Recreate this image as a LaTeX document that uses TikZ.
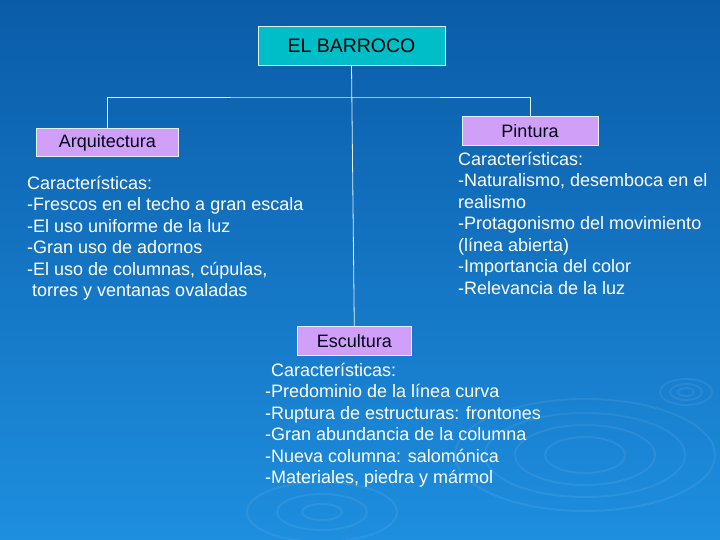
\documentclass[tikz,border=0pt]{standalone}
\usepackage{fontspec}
\setmainfont{Liberation Sans}
\definecolor{bgtop}{RGB}{10,92,168}
\definecolor{bgbot}{RGB}{30,142,222}
\definecolor{cyanbox}{RGB}{0,190,200}
\definecolor{lilac}{RGB}{208,160,248}
\definecolor{linec}{RGB}{225,240,255}
\tikzset{
  topbox/.style={draw=linec, line width=0.8pt, fill=cyanbox, inner sep=0pt,
    font=\fontsize{19.5}{22}\selectfont, text=black},
  catbox/.style={draw=linec, line width=0.8pt, fill=lilac, inner sep=0pt,
    font=\fontsize{18}{21.5}\selectfont, text=black!90!blue},
  list/.style={text=white, align=left, inner sep=0pt, anchor=base west,
    font=\fontsize{18}{21.5}\selectfont},
  conn/.style={draw=linec, line width=0.8pt},
  ripple/.style={draw=white, opacity=0.07, line width=2pt}
}
\begin{document}
\begin{tikzpicture}[x=1pt,y=-1pt]
\shade[top color=bgtop, bottom color=bgbot] (0,0) rectangle (720,540);
\useasboundingbox (0,0) rectangle (720,540);
% ripples
\foreach \r/\s in {8/4,16/8,26/13}{\draw[ripple] (686,392) ellipse ({\r} and {\s});}
\foreach \r/\s in {40/18,70/30,100/42,130/56}{\draw[ripple] (585,455) ellipse ({\r} and {\s});}
\foreach \r/\s in {20/8,45/18,75/30}{\draw[ripple] (322,512) ellipse ({\r} and {\s});}
% boxes
\node[topbox, minimum width=187pt, minimum height=39pt] (top) at (351.5,45.5) {EL BARROCO};
\node[catbox, minimum width=142.5pt, minimum height=28pt] (arq) at (107.3,142.5) {Arquitectura};
\node[catbox, minimum width=136pt, minimum height=29pt] (pin) at (530,131) {Pintura};
\node[catbox, minimum width=113.5pt, minimum height=29pt] (esc) at (354.3,341) {Escultura};
% connectors
\coordinate (j) at (351.5,97);
\draw[conn] (arq.north) |- (j) -| (pin.north);
\draw[conn] (top.south) -- (esc.north);
% texts (base anchor = last line's baseline)
\node[list] (arqtxt) at (27,296.5) {Características:\\
-Frescos en el techo a gran escala\\
-El uso uniforme de la luz\\
-Gran uso de adornos\\
-El uso de columnas, cúpulas,\\
\hspace*{5pt}torres y ventanas ovaladas};
\node[list] (pintxt) at (458,294) {Características:\\
-Naturalismo, desemboca en el\\
realismo\\
-Protagonismo del movimiento\\
(línea abierta)\\
-Importancia del color\\
-Relevancia de la luz};
\node[list] (esctxt) at (265,483.5) {\hspace*{6pt}Características:\\
-Predominio de la línea curva\\
-Ruptura de estructuras: frontones\\
-Gran abundancia de la columna\\
-Nueva columna: salomónica\\
-Materiales, piedra y mármol};
\end{tikzpicture}
\end{document}
